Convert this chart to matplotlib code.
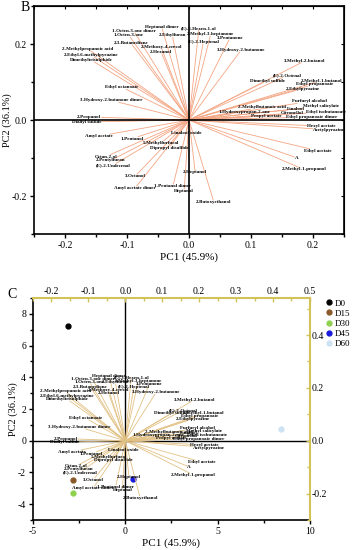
import matplotlib
matplotlib.use("Agg")
import matplotlib.pyplot as plt
from matplotlib.ticker import MultipleLocator, FormatStrFormatter, NullFormatter

# loadings (PC1, PC2)
var_names = [
    'Heptanal dimer', '(E)-3-Hexen-1-ol', '1-Octen-3-one dimer', '1-Octen-3-one',
    '2-Ethylfuran', '2-Methyl-3-heptanone', '3-Pentanone', '(E)-2-Heptenal',
    '2,3-Butanedione', '2-Methoxy-4-cresol', '2-Hexanol', '3-Hydroxy-2-butanone',
    '2-Methylpropanoic acid', '2-Ethyl-6-methylpyrazine', 'Dimethyltrisulphide',
    'Ethyl octanoate', '3-Hydroxy-2-butanone dimer', '2-Propanol', 'Diallyl sulfide',
    '3-Methyl-2-butanol', '(E)-2-Octenal', 'Dimethyl sulfide', '2-Methyl-1-butanol',
    'Ethyl propanoate', '2-Ethylpyrazine', 'Furfuryl alcohol', 'Methyl salicylate',
    '2-Methylbutanoic acid', '1-Hydroxypropan-2-one', 'Linalool', 'Citronellol',
    'Ethyl isobutanoate', 'Propyl acetate', 'Ethyl propanoate dimer', 'Hexyl acetate',
    'Acetylpyrazine', 'Ethyl acetate', 'A', '2-Methyl-1-propanol', '2-Heptanol',
    'Heptanal', '1-Pentanol dimer', '2-Butoxyethanol', 'Amyl acetate', '1-Pentanol',
    '5-Methylfurfural', 'Dipropyl disulfide', 'Linalool oxide', 'Octan-2-ol',
    '2-Pentylfuran', '(E)-2-Undecenal', '3-Octanol', 'Amyl acetate dimer',
]
load_pc1 = [
    -0.044, 0.016, -0.089, -0.097,
    -0.027, 0.035, 0.066, 0.023,
    -0.094, -0.045, -0.045, 0.084,
    -0.163, -0.158, -0.158,
    -0.108, -0.126, -0.161, -0.165,
    0.187, 0.158, 0.126, 0.213,
    0.202, 0.184, 0.195, 0.213,
    0.118, 0.089, 0.173, 0.166,
    0.221, 0.124, 0.198, 0.213,
    0.226, 0.208, 0.173, 0.185, 0.010,
    -0.008, -0.026, 0.040, -0.145, -0.092,
    -0.045, -0.032, -0.005, -0.134,
    -0.126, -0.123, -0.087, -0.087,
]
load_pc2 = [
    0.244, 0.242, 0.234, 0.223,
    0.223, 0.226, 0.216, 0.205,
    0.203, 0.192, 0.179, 0.184,
    0.187, 0.171, 0.158,
    0.086, 0.052, 0.008, -0.005,
    0.156, 0.117, 0.104, 0.104,
    0.094, 0.083, 0.049, 0.036,
    0.034, 0.021, 0.029, 0.018,
    0.021, 0.010, 0.008, -0.016,
    -0.026, -0.081, -0.099, -0.130, -0.138,
    -0.187, -0.174, -0.216, -0.042, -0.049,
    -0.060, -0.073, -0.034, -0.096,
    -0.106, -0.119, -0.148, -0.179,
]

# scores
groups = ['D0', 'D15', 'D30', 'D45', 'D60']
score_pc1 = [-3.1, -2.85, -2.85, 0.4, 8.45]
score_pc2 = [7.25, -2.5, -3.3, -2.4, 0.75]
group_colors = ['black', '#8b5a2b', '#8fd14f', '#1a1adc', '#cde3f3']

plt.rcParams['font.family'] = 'Liberation Serif'
plt.rcParams['axes.unicode_minus'] = False

fig = plt.figure(figsize=(3.55, 5.5), dpi=100)

# ---------- panel B ----------
axb = fig.add_axes([0.096, 0.5745, 0.873, 0.4145])
axb.set_xlim(-0.25, 0.25)
axb.set_ylim(-0.3, 0.3)
axb.xaxis.set_major_locator(MultipleLocator(0.1))
axb.xaxis.set_minor_locator(MultipleLocator(0.05))
axb.yaxis.set_major_locator(MultipleLocator(0.2))
axb.yaxis.set_minor_locator(MultipleLocator(0.1))
axb.xaxis.set_major_formatter(FormatStrFormatter('%.1f'))
axb.yaxis.set_major_formatter(FormatStrFormatter('%.1f'))
axb.tick_params(which='both', direction='out', labelsize=7, width=1, pad=2)
axb.tick_params(which='major', length=3)
axb.tick_params(which='minor', length=2)
for s in axb.spines.values():
    s.set_linewidth(1.2)
secx = axb.secondary_xaxis('top')
secx.xaxis.set_major_locator(MultipleLocator(0.05))
secx.xaxis.set_major_formatter(NullFormatter())
secx.tick_params(direction='in', length=2.5)
secy = axb.secondary_yaxis('right')
secy.yaxis.set_major_locator(MultipleLocator(0.1))
secy.yaxis.set_major_formatter(NullFormatter())
secy.tick_params(direction='in', length=2.5)
axb.axhline(0, color='black', lw=1.2, zorder=2)
axb.axvline(0, color='black', lw=1.2, zorder=2)
axb.set_xlabel('PC1 (45.9%)', fontsize=8, labelpad=2)
axb.set_ylabel('PC2 (36.1%)', fontsize=7.5, labelpad=0)
fig.text(0.07, 0.986, 'B', fontsize=10, ha='center', va='center')

# ---------- panel C ----------
pos_c = [0.093, 0.0545, 0.780, 0.4036]
axc = fig.add_axes(pos_c)
axc.set_xlim(-5, 10)
axc.set_ylim(-5, 9)
axc.xaxis.set_major_locator(MultipleLocator(5))
axc.xaxis.set_minor_locator(MultipleLocator(2.5))
axc.yaxis.set_major_locator(MultipleLocator(2))
axc.yaxis.set_minor_locator(MultipleLocator(1))
axc.tick_params(which='both', direction='out', labelsize=7, width=1, pad=2)
axc.tick_params(which='major', length=3)
axc.tick_params(which='minor', length=2)
axc.spines['top'].set_visible(False)
axc.spines['right'].set_visible(False)
axc.spines['left'].set_linewidth(1.2)
axc.spines['bottom'].set_linewidth(1.2)
axc.axhline(0, color='black', lw=1, zorder=2)
axc.axvline(0, color='black', lw=1, zorder=2)
axc.set_xlabel('PC1 (45.9%)', fontsize=8, labelpad=2)
axc.set_ylabel('PC2 (36.1%)', fontsize=7.5, labelpad=0)

yellow = '#d1c35a'
axl = fig.add_axes(pos_c, label='loadings')
axl.patch.set_visible(False)
axl.set_xlim(-0.25, 0.5)
axl.set_ylim(-0.3, 0.54)
axl.xaxis.tick_top()
axl.yaxis.tick_right()
axl.xaxis.set_major_locator(MultipleLocator(0.1))
axl.xaxis.set_minor_locator(MultipleLocator(0.05))
axl.yaxis.set_major_locator(MultipleLocator(0.2))
axl.yaxis.set_minor_locator(MultipleLocator(0.1))
axl.xaxis.set_major_formatter(FormatStrFormatter('%.1f'))
axl.yaxis.set_major_formatter(FormatStrFormatter('%.1f'))
axl.tick_params(which='both', direction='in', color=yellow, labelsize=7, width=1, pad=1.5)
axl.tick_params(which='major', length=3)
axl.tick_params(which='minor', length=2)
axl.spines['left'].set_visible(False)
axl.spines['bottom'].set_visible(False)
axl.spines['top'].set_color(yellow)
axl.spines['right'].set_color(yellow)
axl.spines['top'].set_linewidth(1.5)
axl.spines['right'].set_linewidth(1.5)
fig.text(0.034, 0.464, 'C', fontsize=10, ha='center', va='center')

handles = []
for g, x, y, c in zip(groups, score_pc1, score_pc2, group_colors):
    h, = axc.plot([x], [y], 'o', color=c, markersize=3.5, zorder=6, label=g)
    handles.append(h)
fig.legend(handles=handles, loc='upper left', bbox_to_anchor=(0.92, 0.456),
           frameon=False, fontsize=6.5, handlelength=0.6, handletextpad=0.35,
           labelspacing=0.2, borderaxespad=0, borderpad=0)

# loading labels on both panels
texts = {}
for ax in (axb, axl):
    texts[ax] = [ax.text(x, y, n, fontsize=3.6, fontweight='bold', ha='center',
                         va='center', zorder=4)
                 for n, x, y in zip(var_names, load_pc1, load_pc2)]

fig.canvas.draw()
renderer = fig.canvas.get_renderer()

# lines from origin stop at the edge of each label
for ax, col in ((axb, '#f4a582'), (axl, '#e2c184')):
    o = ax.transData.transform((0, 0))
    for t, x, y in zip(texts[ax], load_pc1, load_pc2):
        bb = t.get_window_extent(renderer)
        p = ax.transData.transform((x, y))
        dx, dy = p - o
        f = min(bb.width / 2 / max(abs(dx), 1e-9), bb.height / 2 / max(abs(dy), 1e-9))
        s = max(1 - f, 0)
        ax.plot([0, s * x], [0, s * y], color=col, lw=0.6, zorder=1)

fig.savefig('out.png', dpi=100)
